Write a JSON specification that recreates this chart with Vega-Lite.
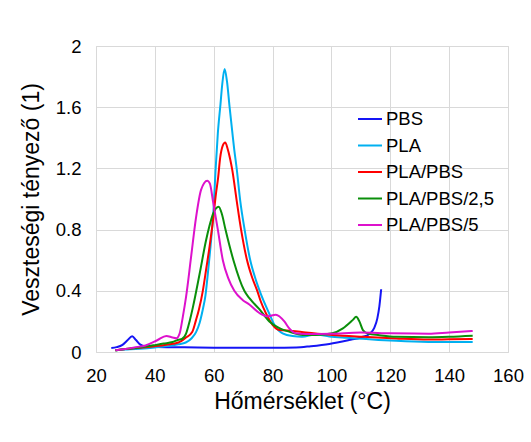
{
  "$schema": "https://vega.github.io/schema/vega-lite/v6.json",
  "width": 412,
  "height": 306,
  "autosize": {"type": "none"},
  "padding": {"left": 96, "top": 46, "right": 23, "bottom": 90},
  "background": "white",
  "data": {"values": [
    {"s":"PBS","T":25.2,"v":0.026},{"s":"PBS","T":27,"v":0.032},{"s":"PBS","T":29,"v":0.047},{"s":"PBS","T":30.6,"v":0.075},{"s":"PBS","T":32.3,"v":0.103},{"s":"PBS","T":33.6,"v":0.078},{"s":"PBS","T":35.1,"v":0.048},{"s":"PBS","T":36.8,"v":0.037},{"s":"PBS","T":40,"v":0.033},{"s":"PBS","T":50,"v":0.031},{"s":"PBS","T":60,"v":0.028},{"s":"PBS","T":70,"v":0.027},{"s":"PBS","T":80,"v":0.027},{"s":"PBS","T":88,"v":0.029},{"s":"PBS","T":93,"v":0.038},{"s":"PBS","T":99.3,"v":0.053},{"s":"PBS","T":106,"v":0.078},{"s":"PBS","T":110,"v":0.095},{"s":"PBS","T":113,"v":0.12},{"s":"PBS","T":114.6,"v":0.16},{"s":"PBS","T":115.6,"v":0.22},{"s":"PBS","T":116.3,"v":0.30},{"s":"PBS","T":116.9,"v":0.41},

    {"s":"PLA","T":26.6,"v":0.012},{"s":"PLA","T":30,"v":0.016},{"s":"PLA","T":35,"v":0.022},{"s":"PLA","T":40,"v":0.03},{"s":"PLA","T":45,"v":0.04},{"s":"PLA","T":48,"v":0.05},{"s":"PLA","T":50.5,"v":0.062},{"s":"PLA","T":52.5,"v":0.09},{"s":"PLA","T":54,"v":0.13},{"s":"PLA","T":55.2,"v":0.19},{"s":"PLA","T":56.2,"v":0.27},{"s":"PLA","T":57.2,"v":0.37},{"s":"PLA","T":58.2,"v":0.55},{"s":"PLA","T":59.1,"v":0.73},{"s":"PLA","T":60,"v":0.95},{"s":"PLA","T":60.6,"v":1.18},{"s":"PLA","T":61.4,"v":1.43},{"s":"PLA","T":62.3,"v":1.62},{"s":"PLA","T":62.9,"v":1.75},{"s":"PLA","T":63.7,"v":1.85},{"s":"PLA","T":64.5,"v":1.77},{"s":"PLA","T":65.4,"v":1.6},{"s":"PLA","T":66.3,"v":1.44},{"s":"PLA","T":67,"v":1.32},{"s":"PLA","T":67.8,"v":1.2},{"s":"PLA","T":69,"v":0.99},{"s":"PLA","T":70.5,"v":0.8},{"s":"PLA","T":72.3,"v":0.61},{"s":"PLA","T":74,"v":0.49},{"s":"PLA","T":75.8,"v":0.39},{"s":"PLA","T":78.9,"v":0.25},{"s":"PLA","T":80.6,"v":0.178},{"s":"PLA","T":83.4,"v":0.122},{"s":"PLA","T":86.8,"v":0.104},{"s":"PLA","T":90,"v":0.1},{"s":"PLA","T":94.7,"v":0.115},{"s":"PLA","T":99.3,"v":0.102},{"s":"PLA","T":105,"v":0.093},{"s":"PLA","T":110.7,"v":0.086},{"s":"PLA","T":116,"v":0.079},{"s":"PLA","T":122,"v":0.073},{"s":"PLA","T":133,"v":0.066},{"s":"PLA","T":140,"v":0.065},{"s":"PLA","T":148,"v":0.065},

    {"s":"PLA/PBS","T":26.6,"v":0.012},{"s":"PLA/PBS","T":30,"v":0.02},{"s":"PLA/PBS","T":35,"v":0.028},{"s":"PLA/PBS","T":40,"v":0.038},{"s":"PLA/PBS","T":44,"v":0.048},{"s":"PLA/PBS","T":48,"v":0.062},{"s":"PLA/PBS","T":50.6,"v":0.095},{"s":"PLA/PBS","T":52.7,"v":0.13},{"s":"PLA/PBS","T":54,"v":0.21},{"s":"PLA/PBS","T":55,"v":0.28},{"s":"PLA/PBS","T":56.3,"v":0.4},{"s":"PLA/PBS","T":57.5,"v":0.55},{"s":"PLA/PBS","T":58.6,"v":0.69},{"s":"PLA/PBS","T":59.7,"v":0.85},{"s":"PLA/PBS","T":60.8,"v":1.04},{"s":"PLA/PBS","T":61.5,"v":1.14},{"s":"PLA/PBS","T":62.2,"v":1.27},{"s":"PLA/PBS","T":63.1,"v":1.35},{"s":"PLA/PBS","T":63.9,"v":1.37},{"s":"PLA/PBS","T":64.7,"v":1.33},{"s":"PLA/PBS","T":65.6,"v":1.26},{"s":"PLA/PBS","T":66.3,"v":1.19},{"s":"PLA/PBS","T":67.8,"v":0.99},{"s":"PLA/PBS","T":69.3,"v":0.8},{"s":"PLA/PBS","T":71.2,"v":0.61},{"s":"PLA/PBS","T":73,"v":0.49},{"s":"PLA/PBS","T":74.8,"v":0.4},{"s":"PLA/PBS","T":76,"v":0.33},{"s":"PLA/PBS","T":77.7,"v":0.255},{"s":"PLA/PBS","T":80,"v":0.178},{"s":"PLA/PBS","T":82.3,"v":0.144},{"s":"PLA/PBS","T":86.8,"v":0.138},{"s":"PLA/PBS","T":91.3,"v":0.127},{"s":"PLA/PBS","T":100.3,"v":0.111},{"s":"PLA/PBS","T":110.7,"v":0.099},{"s":"PLA/PBS","T":122,"v":0.088},{"s":"PLA/PBS","T":133,"v":0.081},{"s":"PLA/PBS","T":140,"v":0.083},{"s":"PLA/PBS","T":148,"v":0.085},

    {"s":"PLA/PBS/2,5","T":26.6,"v":0.01},{"s":"PLA/PBS/2,5","T":30,"v":0.02},{"s":"PLA/PBS/2,5","T":35,"v":0.03},{"s":"PLA/PBS/2,5","T":40,"v":0.045},{"s":"PLA/PBS/2,5","T":43,"v":0.055},{"s":"PLA/PBS/2,5","T":46,"v":0.065},{"s":"PLA/PBS/2,5","T":48,"v":0.08},{"s":"PLA/PBS/2,5","T":49.2,"v":0.085},{"s":"PLA/PBS/2,5","T":50.6,"v":0.12},{"s":"PLA/PBS/2,5","T":51.8,"v":0.2},{"s":"PLA/PBS/2,5","T":52.9,"v":0.29},{"s":"PLA/PBS/2,5","T":55.2,"v":0.51},{"s":"PLA/PBS/2,5","T":57.4,"v":0.73},{"s":"PLA/PBS/2,5","T":58.5,"v":0.82},{"s":"PLA/PBS/2,5","T":59.7,"v":0.9},{"s":"PLA/PBS/2,5","T":61.7,"v":0.95},{"s":"PLA/PBS/2,5","T":62.8,"v":0.9},{"s":"PLA/PBS/2,5","T":64,"v":0.8},{"s":"PLA/PBS/2,5","T":66.7,"v":0.6},{"s":"PLA/PBS/2,5","T":70.4,"v":0.4},{"s":"PLA/PBS/2,5","T":72.2,"v":0.35},{"s":"PLA/PBS/2,5","T":75.5,"v":0.28},{"s":"PLA/PBS/2,5","T":78.9,"v":0.2},{"s":"PLA/PBS/2,5","T":82.3,"v":0.156},{"s":"PLA/PBS/2,5","T":85.6,"v":0.133},{"s":"PLA/PBS/2,5","T":90.2,"v":0.111},{"s":"PLA/PBS/2,5","T":94.7,"v":0.111},{"s":"PLA/PBS/2,5","T":100.3,"v":0.122},{"s":"PLA/PBS/2,5","T":103.9,"v":0.154},{"s":"PLA/PBS/2,5","T":107.3,"v":0.21},{"s":"PLA/PBS/2,5","T":108.4,"v":0.23},{"s":"PLA/PBS/2,5","T":109.5,"v":0.2},{"s":"PLA/PBS/2,5","T":110.7,"v":0.143},{"s":"PLA/PBS/2,5","T":112.4,"v":0.12},{"s":"PLA/PBS/2,5","T":116.3,"v":0.11},{"s":"PLA/PBS/2,5","T":122,"v":0.1},{"s":"PLA/PBS/2,5","T":133,"v":0.097},{"s":"PLA/PBS/2,5","T":140,"v":0.1},{"s":"PLA/PBS/2,5","T":148,"v":0.107},

    {"s":"PLA/PBS/5","T":26.6,"v":0.011},{"s":"PLA/PBS/5","T":30,"v":0.02},{"s":"PLA/PBS/5","T":33,"v":0.03},{"s":"PLA/PBS/5","T":36.8,"v":0.043},{"s":"PLA/PBS/5","T":40.8,"v":0.077},{"s":"PLA/PBS/5","T":43.9,"v":0.105},{"s":"PLA/PBS/5","T":46,"v":0.095},{"s":"PLA/PBS/5","T":47.3,"v":0.09},{"s":"PLA/PBS/5","T":48.4,"v":0.12},{"s":"PLA/PBS/5","T":49.5,"v":0.23},{"s":"PLA/PBS/5","T":50.6,"v":0.36},{"s":"PLA/PBS/5","T":52.3,"v":0.62},{"s":"PLA/PBS/5","T":54,"v":0.88},{"s":"PLA/PBS/5","T":55.7,"v":1.06},{"s":"PLA/PBS/5","T":57.8,"v":1.12},{"s":"PLA/PBS/5","T":58.7,"v":1.1},{"s":"PLA/PBS/5","T":59.8,"v":0.98},{"s":"PLA/PBS/5","T":61.4,"v":0.8},{"s":"PLA/PBS/5","T":63.1,"v":0.6},{"s":"PLA/PBS/5","T":65,"v":0.48},{"s":"PLA/PBS/5","T":67,"v":0.4},{"s":"PLA/PBS/5","T":69.8,"v":0.34},{"s":"PLA/PBS/5","T":72.1,"v":0.31},{"s":"PLA/PBS/5","T":75.5,"v":0.255},{"s":"PLA/PBS/5","T":78.3,"v":0.233},{"s":"PLA/PBS/5","T":81.1,"v":0.244},{"s":"PLA/PBS/5","T":84,"v":0.2},{"s":"PLA/PBS/5","T":85.6,"v":0.156},{"s":"PLA/PBS/5","T":87.9,"v":0.122},{"s":"PLA/PBS/5","T":91.3,"v":0.118},{"s":"PLA/PBS/5","T":100,"v":0.12},{"s":"PLA/PBS/5","T":110,"v":0.127},{"s":"PLA/PBS/5","T":120,"v":0.122},{"s":"PLA/PBS/5","T":133,"v":0.12},{"s":"PLA/PBS/5","T":140,"v":0.128},{"s":"PLA/PBS/5","T":148,"v":0.137}
  ]},
  "mark": {"type": "line", "strokeWidth": 2, "interpolate": "monotone"},
  "encoding": {
    "x": {"field": "T", "type": "quantitative", "scale": {"domain": [20, 160], "nice": false},
      "axis": {"values": [20, 40, 60, 80, 100, 120, 140, 160], "title": "Hőmérséklet (°C)", "labelPadding": 14, "titlePadding": 6, "labelFlush": false}},
    "y": {"field": "v", "type": "quantitative", "scale": {"domain": [0, 2], "nice": false},
      "axis": {"values": [0, 0.4, 0.8, 1.2, 1.6, 2], "format": ".1~f", "title": "Veszteségi tényező (1)", "labelPadding": 15, "titlePadding": 12}},
    "color": {"field": "s", "type": "nominal",
      "scale": {"domain": ["PBS", "PLA", "PLA/PBS", "PLA/PBS/2,5", "PLA/PBS/5"], "range": ["#1515F5", "#00B0F0", "#FF0000", "#0A8F0A", "#DD11CC"]},
      "legend": {"title": null, "orient": "none", "legendX": 261, "legendY": 60, "symbolType": "stroke", "symbolSize": 576, "symbolStrokeWidth": 2, "labelFontSize": 18.5, "labelOffset": 3, "rowPadding": 3.5, "padding": 0, "labelFont": "Liberation Sans", "labelColor": "#000000"}},
    "order": {"field": "T", "type": "quantitative"}
  },
  "config": {
    "font": "Liberation Sans",
    "view": {"stroke": "#D9D9D9"},
    "axis": {"labelFont": "Liberation Sans", "labelFontSize": 18.5, "labelColor": "#000000", "titleFont": "Liberation Sans", "titleFontSize": 23, "titleFontWeight": "normal", "titleColor": "#000000", "gridColor": "#D9D9D9", "domain": false, "ticks": false}
  }
}
